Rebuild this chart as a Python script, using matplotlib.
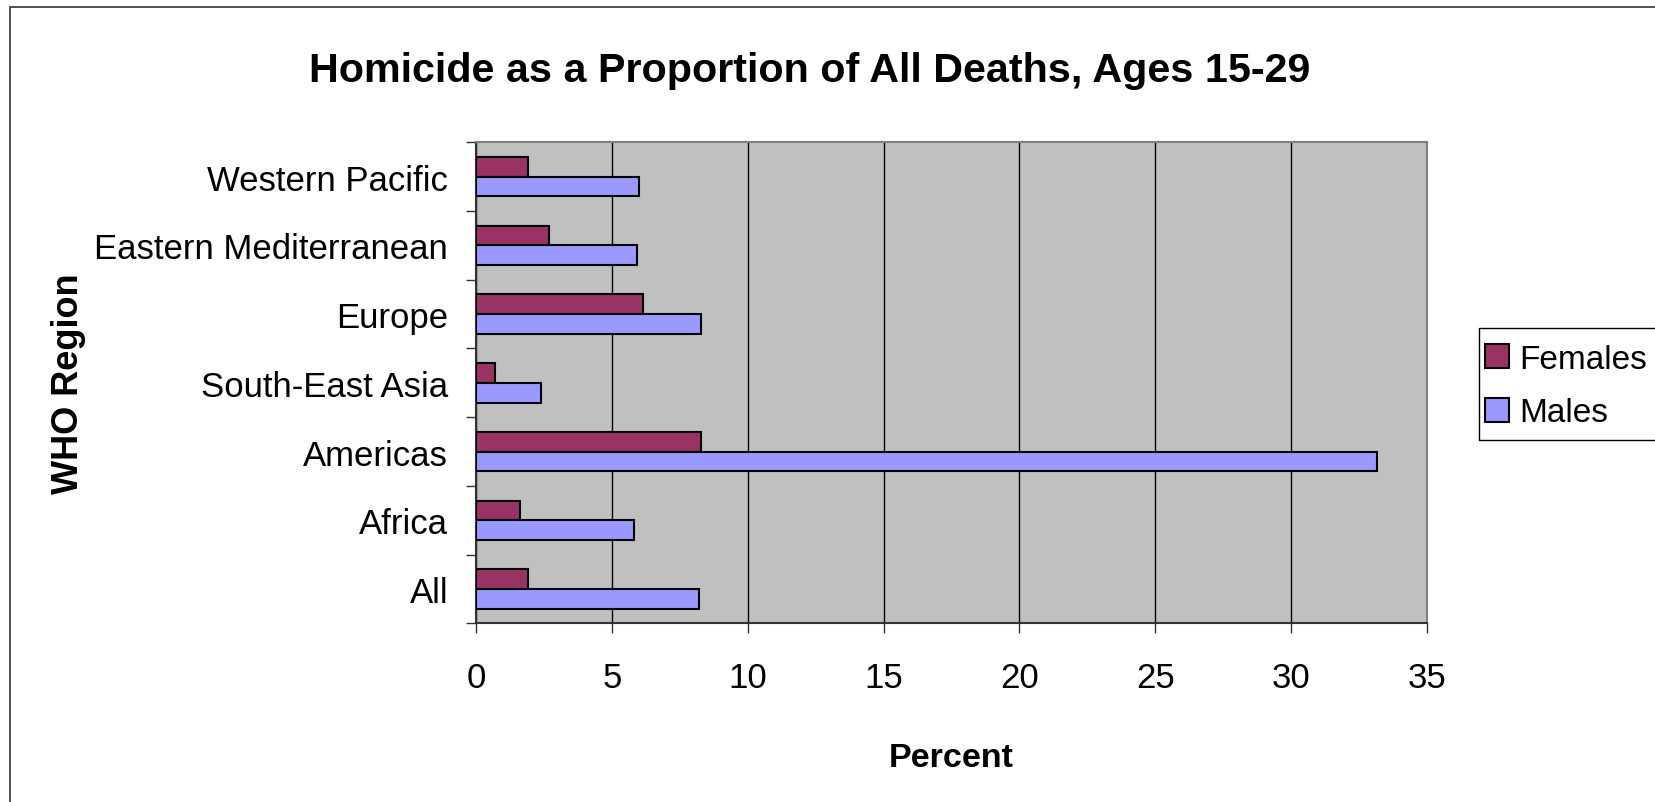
import matplotlib
matplotlib.use("Agg")
from matplotlib import pyplot as plt
from matplotlib.patches import Rectangle
import numpy as np

plt.rcParams['font.family'] = ['Liberation Sans', 'DejaVu Sans']

# WHO regions, bottom to top
regions = ['All', 'Africa', 'Americas', 'South-East Asia', 'Europe',
           'Eastern Mediterranean', 'Western Pacific']
females = [1.93, 1.61, 8.28, 0.69, 6.13, 2.69, 1.93]
males = [8.2, 5.83, 33.17, 2.38, 8.28, 5.91, 5.99]
xticks = [0, 5, 10, 15, 20, 25, 30, 35]

female_col = '#993366'
male_col = '#9999FF'

W, H = 1655, 803
fig = plt.figure(figsize=(W / 100, H / 100), dpi=100)
fig.patch.set_facecolor('white')

# outer chart border (runs off the right and bottom of the image)
fig.patches.append(Rectangle((10 / W, -0.1), 1.2, 1 - 8 / H + 0.1,
                             transform=fig.transFigure, fill=False,
                             edgecolor='#333333', linewidth=1.2))

ax = fig.add_axes([476 / W, 1 - 624.3 / H, (1427 - 476) / W,
                   (624.3 - 143.3) / H])
ax.set_facecolor('#C0C0C0')

y = np.arange(len(regions))
h = 0.287
ax.barh(y, females, height=h, align='edge', color=female_col,
        edgecolor='black', linewidth=1.5, label='Females', zorder=3)
ax.barh(y - h, males, height=h, align='edge', color=male_col,
        edgecolor='black', linewidth=1.5, label='Males', zorder=3)

ax.set_xlim(0, 35)
ax.set_ylim(-0.5, len(regions) - 0.5)
ax.set_xticks(xticks)
ax.set_xticklabels([str(t) for t in xticks], fontsize=25)
ax.xaxis.grid(True, color='black', linewidth=1.0, zorder=1)
ax.set_axisbelow(True)

ax.set_yticks(y)
ax.set_yticklabels(regions, fontsize=25)
ax.set_yticks(np.arange(-0.5, len(regions)), minor=True)
ax.tick_params(axis='y', which='major', length=0, pad=20)
ax.tick_params(axis='y', which='minor', length=7, width=1.0, color='#333333')
ax.tick_params(axis='x', length=7, width=1.0, color='#333333', pad=20.5)

for side in ['top', 'right']:
    ax.spines[side].set_color('#808080')
    ax.spines[side].set_linewidth(1.5)
for side in ['left', 'bottom']:
    ax.spines[side].set_color('#333333')
    ax.spines[side].set_linewidth(1.5)

ax.set_xlabel('Percent', fontsize=24.5, fontweight='bold', labelpad=34.5)
fig.text(68.8 / W, 1 - 384 / H, 'WHO Region', rotation=90,
         fontsize=26, fontweight='bold', ha='center', va='center')

fig.text(810 / W, 1 - 82 / H,
         'Homicide as a Proportion of All Deaths, Ages 15-29',
         fontsize=29.7, fontweight='bold', ha='center', va='baseline')

# legend box, cut off by the right edge of the chart
fig.patches.append(Rectangle((1479 / W, 1 - 441.3 / H), 0.2, 112.6 / H,
                             transform=fig.transFigure, facecolor='white',
                             edgecolor='black', linewidth=1.0))
leg = fig.legend(loc='center left',
                 bbox_to_anchor=(1485 / W, 1 - 387 / H),
                 fontsize=24, frameon=False, handlelength=0.72,
                 handleheight=0.72, handletextpad=0.3, borderpad=0,
                 labelspacing=0.68, borderaxespad=0)

fig.savefig('out.png', dpi=100)
